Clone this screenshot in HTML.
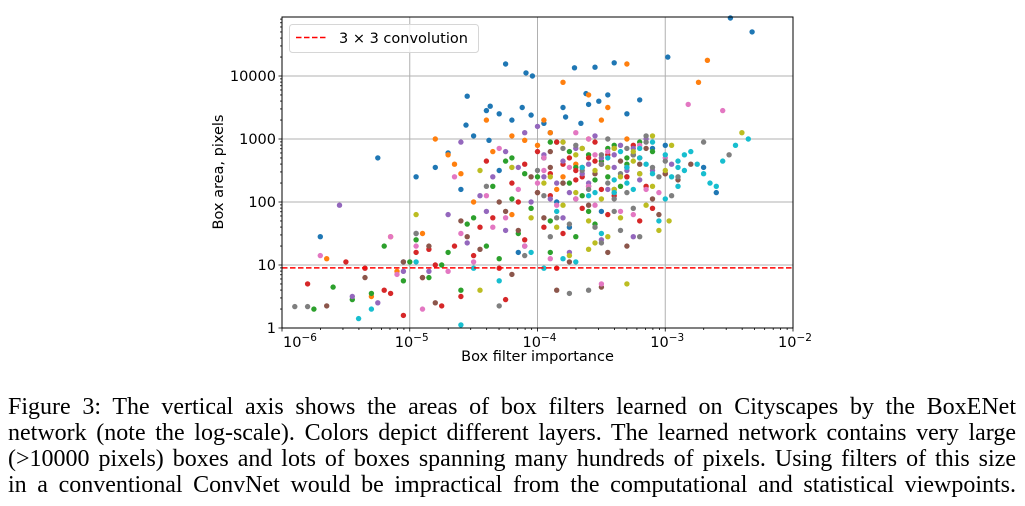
<!DOCTYPE html>
<html><head><meta charset="utf-8">
<style>
body{margin:0;background:#fff;width:1025px;height:506px;overflow:hidden;position:relative}
svg{position:absolute;left:0;top:0}
#caption{position:absolute;left:8px;top:394px;width:1008px;font-family:"Liberation Serif",serif;font-size:24px;line-height:26px;color:#000}
#caption div{text-align:justify;text-align-last:justify;white-space:nowrap;height:26px}
</style></head><body>
<svg id="chart" width="1025" height="380" xmlns="http://www.w3.org/2000/svg"></svg>
<div id="caption">
<div>Figure 3: The vertical axis shows the areas of box filters learned on Cityscapes by the BoxENet</div>
<div>network (note the log-scale). Colors depict different layers. The learned network contains very large</div>
<div>(&gt;10000 pixels) boxes and lots of boxes spanning many hundreds of pixels. Using filters of this size</div>
<div>in a conventional ConvNet would be impractical from the computational and statistical viewpoints.</div>
</div>
<script>
// data: log10(importance), log10(area) per layer
const L0x=[-4.25,-4.09,-4.04,-4.55,-4.37,-4.40,-4.30,-4.20,-4.12,-4.05,-4.56,-4.50,-4.38,-2.49,-2.32,-2.98,-3.71,-3.55,-3.40,-3.62,-3.60,-3.52,-3.45,-3.80,-3.78,-3.66,-3.30,-3.20,-3.10,-3.90,-3.95,-4.70,-4.80,-4.95,-5.05,-5.70,-5.25,-4.10,-3.85,-3.50,-3.40,-3.30,-2.70,-2.60,-3.0,-4.6,-4.3,-3.95,-3.75,-4.15];
const L0y=[4.19,4.05,4.00,3.68,3.52,3.45,3.40,3.30,3.50,3.38,3.22,3.05,2.98,4.92,4.70,4.30,4.13,4.14,4.21,3.72,3.55,3.60,3.70,3.50,3.35,3.25,3.40,3.62,2.85,3.10,3.25,2.78,2.55,2.40,1.05,1.45,2.70,1.30,2.00,1.85,2.20,2.40,2.55,2.15,2.90,2.20,2.50,2.70,1.60,1.20];
const L1x=[-4.2,-4.1,-3.8,-3.30,-2.67,-2.74,-3.6,-3.45,-3.5,-3.9,-3.95,-4.0,-4.35,-4.6,-4.5,-4.8,-4.7,-4.65,-5.1,-5.65,-5.3,-5.15,-4.9,-4.2,-3.8,-3.7,-3.3,-3.25,-3.6,-4.4,-3.85];
const L1y=[3.05,2.98,3.90,4.19,4.25,3.90,3.70,3.50,3.30,3.10,3.30,2.90,2.80,2.45,2.00,3.00,2.75,2.60,0.90,1.10,0.50,1.45,1.50,1.80,2.40,2.60,3.00,2.75,3.00,3.30,2.20];
const L2x=[-5.75,-5.6,-5.45,-5.3,-5.2,-5.05,-4.95,-4.85,-4.7,-4.6,-4.55,-4.4,-4.3,-4.2,-4.1,-4.05,-3.95,-3.9,-3.8,-3.75,-3.7,-3.65,-3.6,-3.5,-3.45,-3.4,-3.35,-3.3,-3.9,-4.15,-4.35,-4.5,-4.75,-5.0,-3.55,-3.85,-4.25,-3.7,-4.0,-3.75,-3.6,-3.45,-3.3,-3.2,-3.9,-3.55,-4.2,-3.1];
const L2y=[0.30,0.65,0.45,0.55,1.30,0.75,1.40,0.80,1.20,0.60,1.65,1.30,1.10,2.05,2.45,1.90,2.70,1.20,2.30,2.80,2.55,2.10,1.85,2.65,2.40,2.90,2.25,2.60,1.70,1.50,2.25,1.75,1.00,1.05,2.35,2.95,2.65,1.45,2.40,2.30,2.75,2.85,2.70,2.95,2.95,1.65,2.70,2.80];
const L3x=[-5.8,-5.5,-5.2,-5.15,-5.05,-4.95,-4.9,-4.8,-4.75,-4.65,-4.6,-4.5,-4.45,-4.35,-4.3,-4.2,-4.15,-4.1,-4.0,-3.95,-3.9,-3.85,-3.75,-3.7,-3.65,-3.6,-3.55,-3.5,-3.45,-3.4,-3.3,-3.2,-3.1,-4.85,-4.25,-3.8,-3.15,-4.4,-5.35,-3.0,-4.0,-3.9,-3.8,-3.7,-3.6,-3.5,-3.4,-3.3,-3.2,-3.85,-3.65,-3.45,-3.25,-4.1,-3.55];
const L3y=[0.70,1.05,0.60,0.55,0.20,1.20,0.80,1.00,0.35,1.30,0.50,1.15,1.60,1.75,0.95,2.30,2.00,1.40,2.15,1.60,2.45,0.95,2.70,2.50,1.90,2.25,2.95,2.60,2.75,2.10,2.40,1.70,1.90,1.25,0.45,1.50,2.25,2.65,0.95,2.45,2.80,2.10,2.60,2.35,2.70,2.20,2.85,2.55,2.70,2.95,2.40,1.80,2.90,2.60,2.65];
const L4x=[-5.55,-5.45,-5.25,-4.95,-4.85,-4.7,-4.55,-4.45,-4.35,-4.25,-4.15,-4.05,-4.0,-3.95,-3.85,-3.8,-3.7,-3.6,-3.55,-3.5,-3.45,-3.4,-3.35,-3.3,-3.25,-3.2,-4.1,-4.6,-3.9,-3.65,-5.05,-3.75,-4.25,-3.95,-3.75,-3.6,-3.4,-3.25,-3.1,-2.95,-3.5,-3.8,-3.15,-4.4];
const L4y=[1.95,0.50,0.40,1.50,0.90,1.80,1.35,2.10,2.40,1.55,2.55,2.00,3.20,2.75,2.30,1.75,2.85,2.60,3.05,1.40,2.20,2.75,2.90,2.50,1.45,2.35,3.10,2.95,2.05,2.45,0.90,1.20,2.80,2.40,2.15,2.30,2.55,2.85,2.50,2.60,2.70,2.65,3.00,1.85];
const L5x=[-5.65,-5.35,-5.05,-4.9,-4.8,-4.6,-4.45,-4.3,-4.2,-4.15,-4.05,-3.95,-3.9,-3.8,-3.75,-3.65,-3.6,-3.5,-3.4,-3.3,-3.2,-3.1,-3.0,-2.9,-2.8,-3.45,-3.65,-4.55,-4.85,-3.25,-3.85,-4.0,-3.9,-3.7,-3.55,-3.35,-3.15,-3.05,-4.25];
const L5y=[0.35,0.80,1.05,0.80,0.40,1.70,1.25,2.00,0.85,1.55,2.40,1.75,2.80,2.30,1.05,2.55,1.95,0.65,2.15,1.30,2.60,2.05,2.45,2.35,2.60,1.20,2.85,1.45,1.30,2.75,0.60,2.15,2.55,2.05,2.45,2.65,2.85,1.80,1.85];
const L6x=[-5.7,-5.15,-5.1,-4.9,-4.7,-4.6,-4.5,-4.4,-4.25,-4.2,-4.1,-4.0,-3.95,-3.85,-3.75,-3.7,-3.6,-3.5,-3.45,-3.35,-3.25,-3.15,-3.0,-2.82,-2.55,-4.95,-4.65,-3.8,-3.55,-3.9,-4.3,-4.15,-3.95,-3.7,-3.55,-3.3,-3.2,-3.05,-4.35,-3.6];
const L6y=[1.15,1.45,0.85,0.30,0.90,1.50,1.05,2.10,1.75,2.55,1.30,2.30,2.70,1.95,2.55,3.10,2.25,0.70,2.80,1.85,1.80,2.20,2.70,3.55,3.45,1.30,2.40,2.95,1.95,1.10,2.85,2.20,2.50,2.05,2.75,2.55,2.90,2.15,1.60,3.00];
const L7x=[-5.9,-5.8,-4.95,-4.3,-4.1,-3.95,-3.85,-3.75,-3.65,-3.55,-3.5,-3.45,-3.4,-3.35,-3.3,-3.25,-3.2,-3.15,-3.1,-3.0,-2.9,-2.7,-2.5,-3.6,-3.75,-3.5,-3.4,-3.9,-4.4,-3.25,-3.7,-3.6,-3.5,-3.3,-3.15,-3.05,-2.95,-3.45,-3.8,-4.0,-3.35,-3.2];
const L7y=[0.34,0.34,1.50,0.35,1.15,2.10,1.75,1.65,2.50,1.60,1.35,2.30,1.85,2.45,2.15,2.75,2.45,2.95,2.55,2.65,2.40,2.95,2.75,0.60,0.55,2.60,2.05,1.45,2.25,1.90,2.90,2.20,2.75,2.85,3.05,2.40,2.10,3.00,2.85,2.50,1.55,1.45];
const L8x=[-4.95,-4.45,-4.2,-4.05,-3.95,-3.85,-3.75,-3.7,-3.6,-3.5,-3.45,-3.4,-3.35,-3.3,-3.25,-3.2,-3.15,-3.05,-2.97,-2.4,-2.95,-3.55,-3.65,-3.8,-3.35,-4.45,-3.1,-3.9,-3.7,-3.55,-3.4,-3.25,-3.1,-3.0,-3.8,-3.6,-3.45];
const L8y=[1.80,2.50,2.55,1.75,2.30,1.60,1.15,2.75,1.25,2.05,2.55,2.20,1.75,0.70,2.65,2.45,1.95,1.55,1.70,3.10,2.90,1.35,2.85,2.95,2.40,0.60,2.25,2.40,2.15,2.50,2.85,2.80,3.05,2.50,1.95,1.70,1.45];
const L9x=[-5.4,-5.3,-4.95,-4.6,-4.5,-4.3,-4.05,-3.95,-3.85,-3.7,-3.6,-3.5,-3.4,-3.3,-3.2,-3.1,-3.0,-2.9,-2.8,-2.7,-2.65,-2.55,-2.45,-2.35,-2.9,-2.75,-3.05,-3.35,-3.65,-3.45,-3.25,-2.6,-3.15,-3.55,-2.85,-3.8,-3.3,-3.1,-3.0,-2.95,-2.9,-3.2,-3.4,-2.85];
const L9y=[0.15,0.30,1.05,0.05,0.95,0.75,1.20,0.95,1.85,1.05,2.10,1.50,2.35,2.30,2.70,2.95,2.05,2.55,2.80,2.45,2.30,2.65,2.90,3.00,2.25,2.60,1.70,2.80,2.55,2.70,2.20,2.25,2.60,2.15,2.75,1.10,2.55,2.45,2.75,2.40,2.65,2.85,2.15,2.50];
const xTickExps=[-6,-5,-4,-3,-2];
const yTickVals=[1,10,100,1000,10000];
const convArea=9;
const layerColors=['#1f77b4','#ff7f0e','#2ca02c','#d62728','#9467bd','#8c564b','#e377c2','#7f7f7f','#bcbd22','#17becf'];

const NS='http://www.w3.org/2000/svg';
const svg=document.getElementById('chart');
const PL=282,PR=793,PT=17,PB=328;
const XMIN=-6,XMAX=-2,YMIN=0,YMAX=(PB-PT)/63;
function sx(lx){return PL+(lx-XMIN)/(XMAX-XMIN)*(PR-PL);}
function sy(ly){return PB-(ly-YMIN)/(YMAX-YMIN)*(PB-PT);}
function mk(tag,attrs,parent){const e=document.createElementNS(NS,tag);for(const k in attrs)e.setAttribute(k,attrs[k]);(parent||svg).appendChild(e);return e;}

const grid=mk('g',{});


xTickExps.forEach(e=>{if(e>XMIN&&e<XMAX)mk('line',{x1:sx(e),x2:sx(e),y1:PT,y2:PB,stroke:'#b0b0b0','stroke-width':1},grid);});
yTickVals.forEach(v=>{const l=Math.log10(v);if(l>YMIN)mk('line',{x1:PL,x2:PR,y1:sy(l),y2:sy(l),stroke:'#b0b0b0','stroke-width':1},grid);});

const layersX=[L0x,L1x,L2x,L3x,L4x,L5x,L6x,L7x,L8x,L9x];
const layersY=[L0y,L1y,L2y,L3y,L4y,L5y,L6y,L7y,L8y,L9y];
const pts=mk('g',{});


for(let i=0;i<10;i++){
  const g=mk('g',{fill:layerColors[i]},pts);
  
  
  const n=Math.min(layersX[i].length,layersY[i].length);
  for(let j=0;j<n;j++){
    const c=mk('circle',{cx:sx(layersX[i][j]).toFixed(1),cy:sy(layersY[i][j]).toFixed(1),r:2.7},g);
    
    
  }
}

const ref=mk('line',{x1:PL,x2:PR,y1:sy(Math.log10(convArea)),y2:sy(Math.log10(convArea)),stroke:'#ff0000','stroke-width':1.5,'stroke-dasharray':'5.5,2.5'});



const fr=mk('rect',{x:PL,y:PT,width:PR-PL,height:PB-PT,fill:'none',stroke:'#000','stroke-width':1});



const ax=mk('g',{stroke:'#000','stroke-width':0.8});


for(let d=XMIN;d<XMAX;d++){for(let m=1;m<10;m++){const x=sx(d+Math.log10(m));const len=m===1?3.5:2;mk('line',{x1:x,x2:x,y1:PB,y2:PB+len},ax);}}
mk('line',{x1:sx(XMAX),x2:sx(XMAX),y1:PB,y2:PB+3.5},ax);
for(let d=0;d<5;d++){for(let m=1;m<10;m++){const l=d+Math.log10(m);if(l>YMAX)break;const y=sy(l);const len=m===1?3.5:2;mk('line',{x1:PL,x2:PL-len,y1:y,y2:y},ax);}}

const font='DejaVu Sans, Liberation Sans, sans-serif';
xTickExps.forEach((e,i)=>{
  const first=i===0;
  const t=mk('text',{x:first?sx(e)+1:sx(e)+2,y:PB+19,'font-family':font,'font-size':14.5,'text-anchor':first?'start':'middle',fill:'#000'});
  
  
  t.textContent='10';
  const s=mk('tspan',{dy:-6,'font-size':10.5},t);s.textContent='\u2212'+(-e);
});
yTickVals.forEach(v=>{
  const t=mk('text',{x:PL-6,y:sy(Math.log10(v))+5,'font-family':font,'font-size':14.5,'text-anchor':'end',fill:'#000'});
  
  
  t.textContent=String(v);
});
const xl=mk('text',{x:(PL+PR)/2,y:361,'font-family':font,'font-size':14.5,'text-anchor':'middle',fill:'#000'});


xl.textContent='Box filter importance';
const yl=mk('text',{x:0,y:0,'font-family':font,'font-size':14.5,'text-anchor':'middle',fill:'#000',transform:'translate(223,172) rotate(-90)'});


yl.textContent='Box area, pixels';

const lg=mk('g',{});


mk('rect',{x:289.5,y:24.5,width:189,height:28,rx:3,fill:'#fff','fill-opacity':0.8,stroke:'#d6d6d6'},lg);
mk('line',{x1:296,x2:327,y1:37.5,y2:37.5,stroke:'#ff0000','stroke-width':1.5,'stroke-dasharray':'5.5,2.5'},lg);
const lt=mk('text',{x:339,y:43,'font-family':font,'font-size':14.5,fill:'#000'},lg);


lt.textContent='3 \u00d7 3 convolution';
</script>
</body></html>
